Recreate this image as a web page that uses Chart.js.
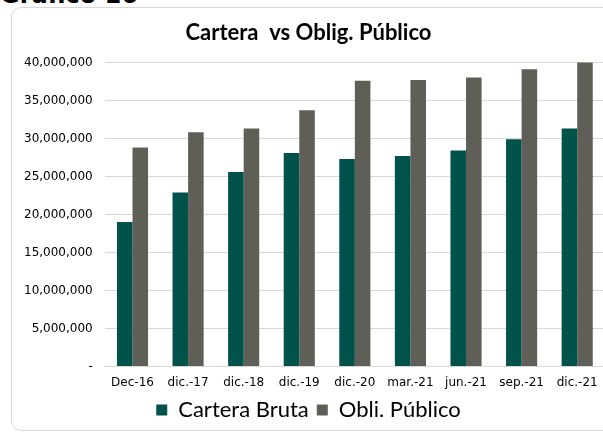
<!DOCTYPE html>
<html>
<head>
<meta charset="utf-8">
<script src="https://cdn.jsdelivr.net/npm/chart.js@4"></script>
<style>
  html, body { margin: 0; padding: 0; background: #fff; overflow: hidden; width: 603px; height: 434px; }
  .heading { position: absolute; left: 0; top: -19px; font: bold 24px "DejaVu Sans", sans-serif; color: #000; }
  .card { position: absolute; left: 11px; top: 7px; width: 606px; height: 424px; border: 1px solid #d9d9d9; border-radius: 10px; box-sizing: border-box; background: #fff; }
  .card canvas { position: absolute; left: 0; top: 0; }
</style>
</head>
<body>
<div class="heading">Gráfico 16</div>
<div class="card"><canvas id="myChart" width="604" height="423"></canvas></div>
<script>
const labels = ['Dec-16', 'dic.-17', 'dic.-18', 'dic.-19', 'dic.-20', 'mar.-21', 'jun.-21', 'sep.-21', 'dic.-21'];
const carteraBruta = [19000000, 22900000, 25600000, 28100000, 27300000, 27700000, 28400000, 29900000, 31300000];
const obliPublico = [28800000, 30800000, 31300000, 33700000, 37600000, 37700000, 38000000, 39100000, 40050000];

(function () {
  const context = document.getElementById('myChart').getContext('2d');

  const data = {
    labels,
    datasets: [
      {
        label: 'Cartera Bruta',
        backgroundColor: '#00524a',
        data: carteraBruta,
      },
      {
        label: 'Obli. Público',
        backgroundColor: '#5f5e57',
        data: obliPublico,
      },
    ],
  };

  const config = {
    type: 'bar',
    data,
    options: {
      responsive: false,
      animation: false,
      layout: { padding: { left: 0, right: 11, top: 2, bottom: 0 } },
      datasets: { bar: { categoryPercentage: 0.56, barPercentage: 1 } },
      plugins: {
        title: {
          display: true,
          text: 'Cartera  vs Oblig. Público',
          color: '#000',
          font: { family: 'Lato', size: 22, weight: 'bold' },
          padding: { top: 10, bottom: 16 },
        },
        legend: {
          position: 'bottom',
          labels: {
            color: '#000',
            font: { family: 'Lato', size: 22 },
            boxWidth: 11,
            boxHeight: 11,
            padding: 8,
          },
        },
        tooltip: { enabled: false },
      },
      scales: {
        x: {
          grid: { display: false },
          border: { color: '#d9d9d9' },
          ticks: { color: '#000', font: { family: 'DejaVu Sans', size: 12 }, maxRotation: 0, padding: 1 },
        },
        y: {
          min: 0,
          max: 40000000,
          grid: { color: '#d9d9d9', drawTicks: false },
          border: { display: false },
          ticks: {
            stepSize: 5000000,
            color: '#000',
            padding: 12,
            font: { family: 'DejaVu Sans', size: 12 },
            callback: (v) => (v === 0 ? '-' : v.toLocaleString('en-US')),
          },
        },
      },
    },
  };

  new Chart(context, config);
})();
</script>
</body>
</html>
